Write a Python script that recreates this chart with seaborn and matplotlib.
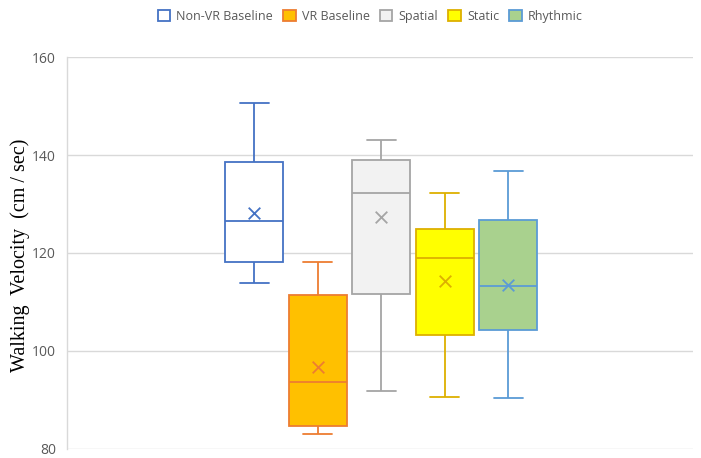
import numpy as np
import pandas as pd
import matplotlib
matplotlib.use("Agg")
import matplotlib.pyplot as plt
from matplotlib.patches import Patch
import seaborn as sns

groups = ["Non-VR Baseline", "VR Baseline", "Spatial", "Static", "Rhythmic"]
whislo = [113.9, 83.1, 91.8, 90.6, 90.4]
q1 = [118.1, 84.6, 111.7, 103.3, 104.2]
med = [126.5, 93.6, 132.2, 119.0, 113.3]
q3 = [138.6, 111.5, 139.0, 125.0, 126.7]
whishi = [150.7, 118.1, 143.1, 132.2, 136.8]
means = [128.2, 96.7, 127.4, 114.3, 113.5]

fills = ["#FFFFFF", "#FFC000", "#F2F2F2", "#FFFF00", "#A9D18E"]
edges = ["#4472C4", "#ED7D31", "#A5A5A5", "#DDB000", "#5B9BD5"]

rows = []
for g, a, b, c, d, e in zip(groups, whislo, q1, med, q3, whishi):
    for v in (a, b, c, d, e):
        rows.append({"group": g, "value": v})
df = pd.DataFrame(rows)

sns.set_theme(style="white")
fig = plt.figure(figsize=(7.01, 4.58), dpi=100)
ax = fig.add_axes([0.0956, 0.0197, 0.893, 0.8558])

for g, fc, ec in zip(groups, fills, edges):
    sns.boxplot(data=df[df["group"] == g], x="group", y="value", order=groups,
                color=fc, linecolor=ec, width=0.91, whis=np.inf, saturation=1,
                linewidth=1.3, ax=ax, zorder=3)

for i, (m, ec) in enumerate(zip(means, edges)):
    ax.scatter([i], [m], marker="x", s=70, color=ec, linewidths=1.3, zorder=5)

ax.set_ylim(80, 160)
ax.set_xlim(-2.945, 6.91)
ax.set_yticks([80, 100, 120, 140, 160])
ax.set_xticks([])
ax.set_xlabel("")
ax.grid(axis="y", color="#D9D9D9", linewidth=1.0, zorder=0)
ax.set_axisbelow(True)
for s in ["top", "right", "bottom"]:
    ax.spines[s].set_visible(False)
ax.spines["left"].set_color("#D9D9D9")
ax.spines["left"].set_linewidth(1.0)
ax.tick_params(axis="y", length=0, pad=8, labelsize=10, labelcolor="#595959")
for t in ax.get_yticklabels():
    t.set_fontfamily("Open Sans")

ax.set_ylabel("Walking  Velocity  (cm / sec)", fontfamily="Liberation Serif",
              fontsize=14.5, color="#000000")
ax.yaxis.set_label_coords(-0.059, 0.495)

handles = [Patch(facecolor=fc, edgecolor=ec, linewidth=1.3) for fc, ec in zip(fills, edges)]
fig.legend(handles, groups, loc="center", bbox_to_anchor=(0.528, 0.965), ncol=5,
           frameon=False, handlelength=1.0, handleheight=1.0, handletextpad=0.5,
           columnspacing=0.8, prop={"family": "Open Sans", "size": 9},
           labelcolor="#595959")

fig.savefig("out.png", dpi=100)
